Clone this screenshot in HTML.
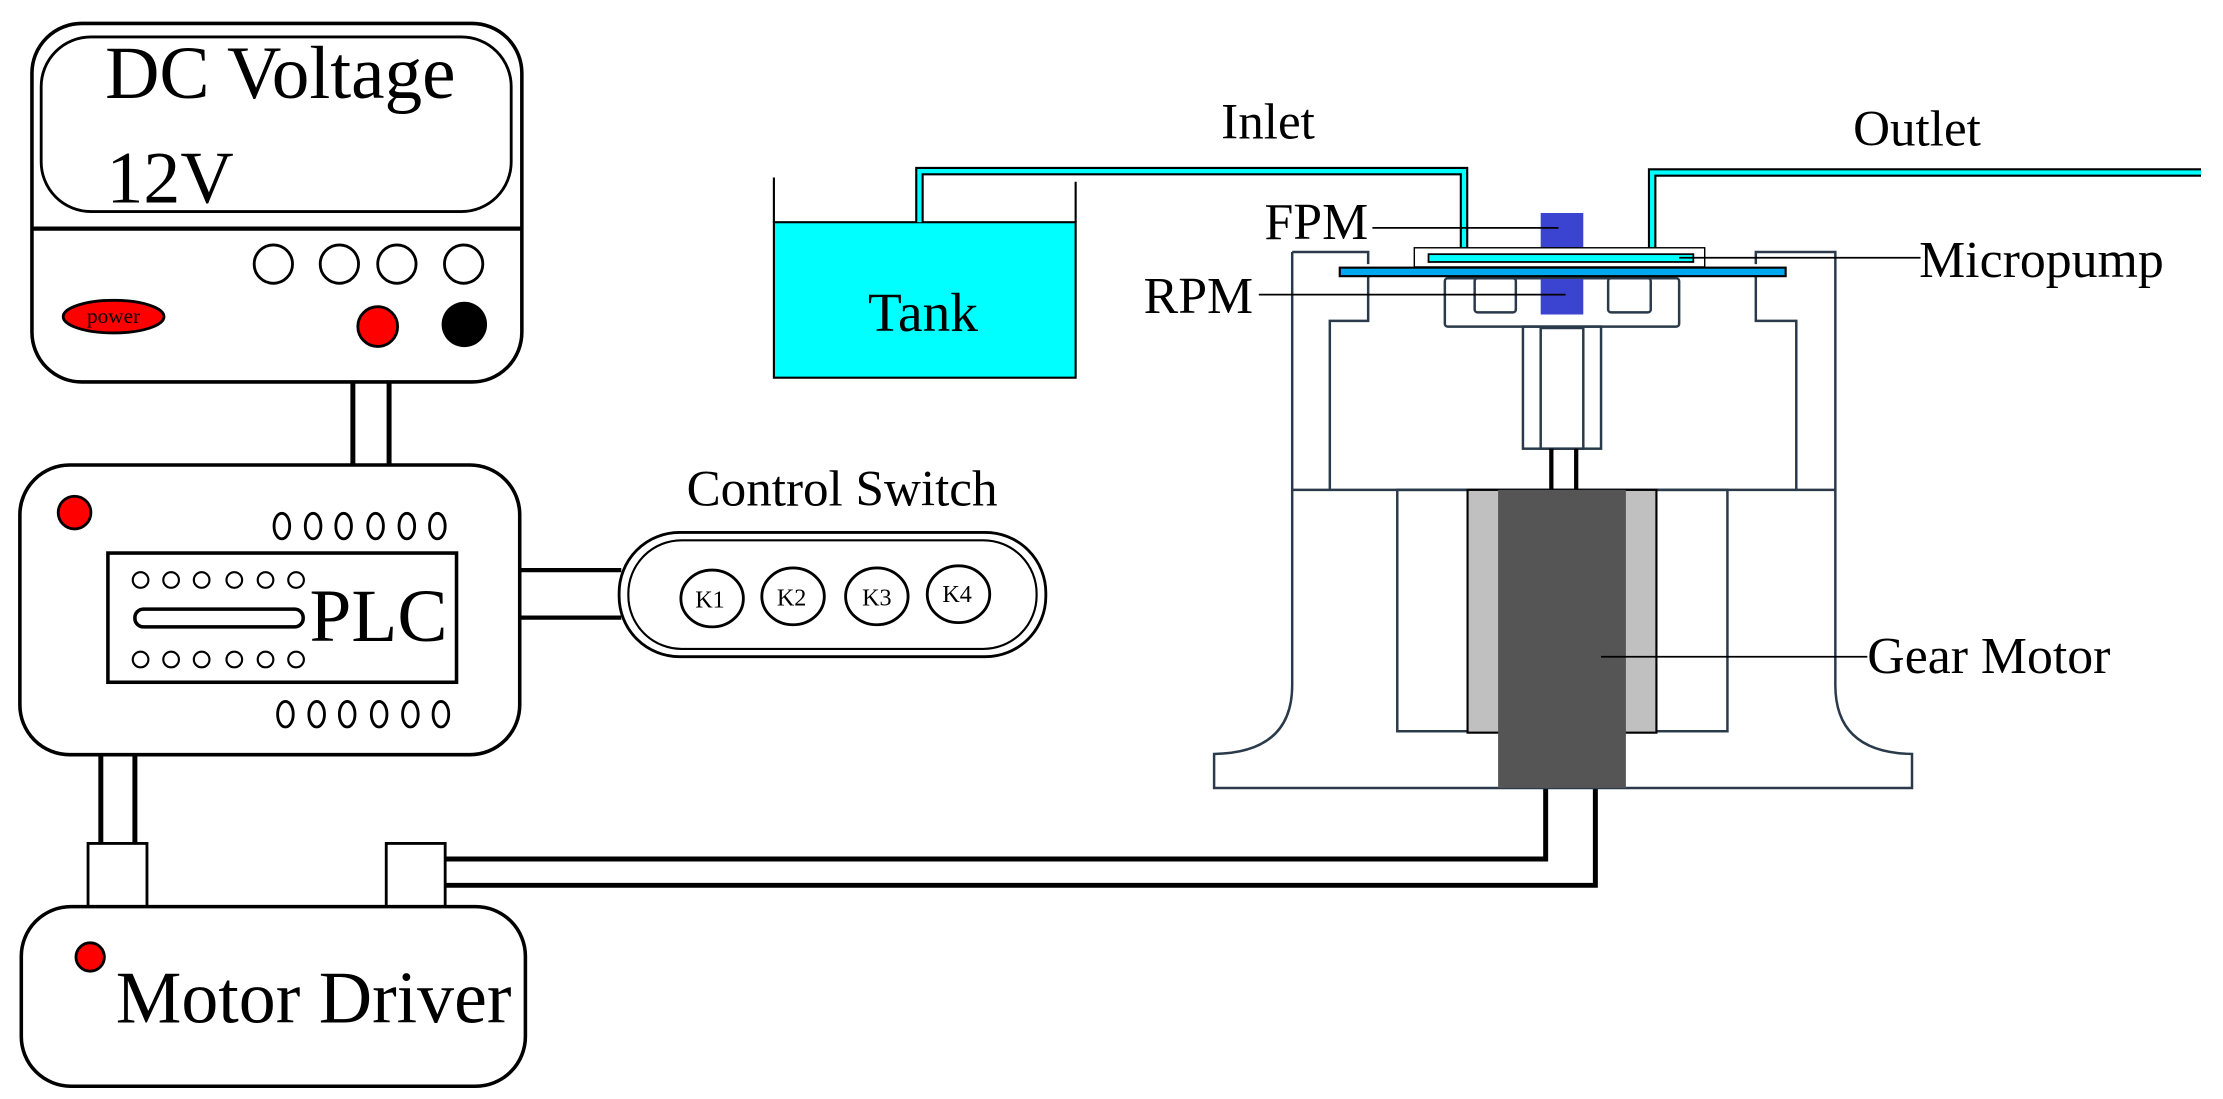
<!DOCTYPE html>
<html><head><meta charset="utf-8"><style>html,body{margin:0;padding:0;background:#fff}svg{display:block}</style></head>
<body>
<svg width="2223" height="1099" viewBox="0 0 3131 1548" preserveAspectRatio="none" xmlns="http://www.w3.org/2000/svg" font-family="'Liberation Serif', serif">
<!-- DC supply -->
<rect x="45" y="33" width="690" height="505" rx="70" fill="#fff" stroke="#000" stroke-width="5"/>
<rect x="58" y="52" width="662" height="246" rx="70" fill="#fff" stroke="#000" stroke-width="4"/>
<line x1="45" y1="322" x2="735" y2="322" stroke="#000" stroke-width="6"/>
<text x="148" y="138" font-size="106">DC Voltage</text>
<text x="150" y="285" font-size="104">12V</text>
<g fill="#fff" stroke="#000" stroke-width="4">
<circle cx="385" cy="372" r="27"/><circle cx="478" cy="372" r="27"/><circle cx="559" cy="372" r="27"/><circle cx="653" cy="372" r="27"/></g>
<ellipse cx="160" cy="446" rx="71" ry="23" fill="#f00" stroke="#000" stroke-width="4"/>
<text x="160" y="455" font-size="30" text-anchor="middle">power</text>
<circle cx="532" cy="460" r="28" fill="#f00" stroke="#000" stroke-width="4"/>
<circle cx="654" cy="457" r="32" fill="#000"/>
<g stroke="#000" stroke-width="7"><line x1="497" y1="538" x2="497" y2="655"/><line x1="548" y1="538" x2="548" y2="655"/></g>
<!-- PLC -->
<rect x="28" y="655" width="704" height="408" rx="70" fill="#fff" stroke="#000" stroke-width="5"/>
<circle cx="105" cy="722" r="23" fill="#f00" stroke="#000" stroke-width="4"/>
<g fill="#fff" stroke="#000" stroke-width="4">
<ellipse cx="397" cy="741" rx="11" ry="18"/><ellipse cx="441" cy="741" rx="11" ry="18"/><ellipse cx="484" cy="741" rx="11" ry="18"/><ellipse cx="529" cy="741" rx="11" ry="18"/><ellipse cx="573" cy="741" rx="11" ry="18"/><ellipse cx="616" cy="741" rx="11" ry="18"/>
<ellipse cx="402" cy="1006" rx="11" ry="18"/><ellipse cx="446" cy="1006" rx="11" ry="18"/><ellipse cx="489" cy="1006" rx="11" ry="18"/><ellipse cx="534" cy="1006" rx="11" ry="18"/><ellipse cx="578" cy="1006" rx="11" ry="18"/><ellipse cx="621" cy="1006" rx="11" ry="18"/>
</g>
<rect x="152" y="779" width="491" height="182" fill="#fff" stroke="#000" stroke-width="5"/>
<g fill="#fff" stroke="#000" stroke-width="3">
<circle cx="198" cy="817" r="11"/><circle cx="241" cy="817" r="11"/><circle cx="284" cy="817" r="11"/><circle cx="330" cy="817" r="11"/><circle cx="374" cy="817" r="11"/><circle cx="417" cy="817" r="11"/>
<circle cx="198" cy="929" r="11"/><circle cx="241" cy="929" r="11"/><circle cx="284" cy="929" r="11"/><circle cx="330" cy="929" r="11"/><circle cx="374" cy="929" r="11"/><circle cx="417" cy="929" r="11"/>
</g>
<rect x="190" y="858" width="237" height="25" rx="12" fill="#fff" stroke="#000" stroke-width="5"/>
<text x="436" y="903" font-size="106">PLC</text>
<g stroke="#000" stroke-width="6"><line x1="732" y1="803" x2="875" y2="803"/><line x1="732" y1="870" x2="875" y2="870"/></g>
<text x="1186" y="712" font-size="72" text-anchor="middle">Control Switch</text>
<rect x="872" y="750" width="601" height="175" rx="85" fill="#fff" stroke="#000" stroke-width="4"/>
<rect x="885" y="761" width="575" height="153" rx="75" fill="#fff" stroke="#000" stroke-width="3"/>
<g fill="#fff" stroke="#000" stroke-width="4">
<ellipse cx="1003" cy="843" rx="44" ry="40"/><ellipse cx="1117" cy="840" rx="44" ry="40"/><ellipse cx="1235" cy="840" rx="44" ry="40"/><ellipse cx="1350" cy="837" rx="44" ry="40"/></g>
<g font-size="34" text-anchor="middle"><text x="1000" y="856">K1</text><text x="1115" y="853">K2</text><text x="1235" y="853">K3</text><text x="1348" y="848">K4</text></g>
<g stroke="#000" stroke-width="7"><line x1="142" y1="1063" x2="142" y2="1188"/><line x1="190" y1="1063" x2="190" y2="1188"/></g>
<rect x="124" y="1188" width="83" height="89" fill="#fff" stroke="#000" stroke-width="4"/>
<rect x="544" y="1188" width="83" height="89" fill="#fff" stroke="#000" stroke-width="4"/>
<g stroke="#000" stroke-width="7" fill="none"><polyline points="627,1210 2177,1210 2177,1110"/><polyline points="627,1247 2247,1247 2247,1110"/></g>
<rect x="30" y="1277" width="710" height="253" rx="70" fill="#fff" stroke="#000" stroke-width="5"/>
<circle cx="127" cy="1348" r="20" fill="#f00" stroke="#000" stroke-width="4"/>
<text x="163" y="1440" font-size="104">Motor Driver</text>
<!-- Tank -->
<rect x="1090" y="313" width="425" height="219" fill="#00ffff" stroke="#000" stroke-width="3"/>
<g stroke="#000" stroke-width="3"><line x1="1090" y1="250" x2="1090" y2="313"/><line x1="1515" y1="256" x2="1515" y2="313"/></g>
<text x="1300" y="466" font-size="78" text-anchor="middle">Tank</text>
<g fill="none" stroke-linejoin="miter">
<polyline points="1295,313 1295,241 2062,241 2062,358" stroke="#000" stroke-width="12"/>
<polyline points="1295,313 1295,241 2062,241 2062,358" stroke="#00ffff" stroke-width="6"/>
<polyline points="2327,358 2327,243 3100,243" stroke="#000" stroke-width="12"/>
<polyline points="2327,358 2327,243 3100,243" stroke="#00ffff" stroke-width="6"/>
</g>
<text x="1720" y="195" font-size="72">Inlet</text>
<text x="2610" y="205" font-size="72">Outlet</text>
<g transform="translate(1565,0)" fill="none" stroke="#2a3a4a" stroke-width="3.5">
<path d="M255,355 L362,355 L362,372 M362,390 L362,452 L308,452 L308,690"/>
<path d="M255,355 L255,965 Q255,1060 145,1062 L145,1110 L1128,1110 L1128,1062 Q1020,1060 1020,965 L1020,355 L908,355 L908,372 M908,390 L908,452 L965,452 L965,690"/>
<line x1="255" y1="690" x2="1020" y2="690"/>
<rect x="403" y="690" width="465" height="340"/>
<rect x="470" y="392" width="330" height="68" rx="4" fill="#fff"/>
<rect x="512" y="392" width="58" height="48" rx="4"/>
<rect x="700" y="392" width="60" height="48" rx="4"/>
<rect x="580" y="460" width="110" height="172"/>
<rect x="605" y="462" width="60" height="170"/>
</g>
<g transform="translate(1565,0)">
<rect x="502" y="690" width="266" height="342" fill="#c0c0c0" stroke="#000" stroke-width="3"/>
<rect x="545" y="690" width="180" height="420" fill="#555"/>
<g stroke="#000" stroke-width="6"><line x1="620" y1="632" x2="620" y2="690"/><line x1="655" y1="632" x2="655" y2="690"/></g>
<rect x="605" y="300" width="60" height="50" fill="#3a44d0"/>
<rect x="605" y="393" width="60" height="50" fill="#3a44d0"/>
<rect x="427" y="349" width="409" height="27" fill="#fff" stroke="#000" stroke-width="2"/>
<rect x="447" y="358" width="373" height="11" fill="#00ffff" stroke="#000" stroke-width="2.5"/>
<rect x="322" y="377" width="628" height="12" fill="#00a8f0" stroke="#000" stroke-width="3"/>
<g stroke="#000" stroke-width="2.5">
<line x1="368" y1="321" x2="630" y2="321"/>
<line x1="208" y1="415" x2="640" y2="415"/>
<line x1="800" y1="363" x2="1140" y2="363"/>
<line x1="690" y1="925" x2="1065" y2="925"/>
</g>
<g font-size="73">
<text x="362" y="337" text-anchor="end">FPM</text>
<text x="200" y="441" text-anchor="end">RPM</text>
<text x="1138" y="390">Micropump</text>
<text x="1065" y="948">Gear Motor</text>
</g>
</g>
</svg>
</body></html>
